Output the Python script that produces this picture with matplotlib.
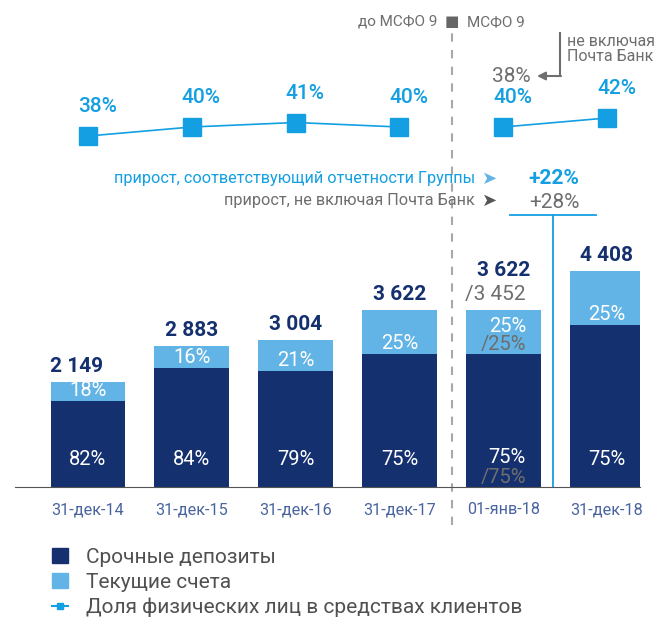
import matplotlib
matplotlib.use("Agg")
import matplotlib.pyplot as plt
from matplotlib.patches import Patch
from matplotlib.lines import Line2D

plt.rcParams['font.family'] = ['Roboto', 'DejaVu Sans']

# data
dates = ['31-дек-14', '31-дек-15', '31-дек-16', '31-дек-17', '01-янв-18', '31-дек-18']
totals = [2149, 2883, 3004, 3622, 3622, 4408]
current_share = [18, 16, 21, 25, 25, 25]      # текущие счета, %
term_share = [82, 84, 79, 75, 75, 75]         # срочные депозиты, %
retail_share = [38, 40, 41, 40, 40, 42]       # доля физлиц, %
excl_total = 3452                             # 01-янв-18, не включая Почта Банк
excl_shares = [25, 75]
excl_retail = 38
growth_group = '+22%'
growth_excl = '+28%'

NAVY = '#15306f'
LIGHT = '#62b4e6'
BLUE = '#139fe2'
GRAY = '#6e6e6e'
TICK = '#4a64a0'

W, H = 656, 622


def px(x, y):
    return x / W, 1 - y / H


def fmt(v):
    return f'{v:,}'.replace(',', ' ')


fig = plt.figure(figsize=(W / 100, H / 100), dpi=100)
ax = fig.add_axes([15 / W, (H - 487) / H, 625 / W, 487 / H])
ax.set_xlim(-0.703, 5.318)
ax.set_ylim(0, 487 / 0.049)

x = list(range(len(dates)))
term = [t * s / 100 for t, s in zip(totals, term_share)]
cur = [t - d for t, d in zip(totals, term)]
ax.bar(x, term, width=0.72, color=NAVY)
ax.bar(x, cur, bottom=term, width=0.72, color=LIGHT)

inner = dict(textcoords='offset points', ha='center', va='center', fontsize=14.5)
for i in x:
    if i == 4:
        ax.annotate(fmt(totals[i]), (i, totals[i]), xytext=(0, 28),
                    textcoords='offset points', ha='center', va='center',
                    fontsize=15, fontweight='bold', color=NAVY)
        ax.annotate('/' + fmt(excl_total), (i, totals[i]), xytext=(-6, 11),
                    textcoords='offset points', ha='center', va='center',
                    fontsize=15, color=GRAY)
        ax.annotate(f'{current_share[i]}%', (i, term[i]), xytext=(3, 20), color='white', **inner)
        ax.annotate(f'/{excl_shares[0]}%', (i, term[i]), xytext=(0, 7), color=GRAY, **inner)
        ax.annotate(f'{term_share[i]}%', (i, 0), xytext=(3, 21.5), color='white', **inner)
        ax.annotate(f'/{excl_shares[1]}%', (i, 0), xytext=(0, 6.5), color=GRAY, **inner)
    else:
        dx = -8 if i == 0 else 0
        ax.annotate(fmt(totals[i]), (i, totals[i]), xytext=(dx, 11),
                    textcoords='offset points', ha='center', va='center',
                    fontsize=15, fontweight='bold', color=NAVY)
        ax.annotate(f'{current_share[i]}%', (i, term[i]), xytext=(0, 7.5), color='white', **inner)
        ax.annotate(f'{term_share[i]}%', (i, 0), xytext=(0, 20), color='white', **inner)

ax.set_xticks(x)
ax.set_xticklabels(dates, fontsize=11.7, color=TICK)
ax.tick_params(axis='x', length=0, pad=11)
ax.set_yticks([])
for s in ['top', 'right', 'left']:
    ax.spines[s].set_visible(False)
ax.spines['bottom'].set_color('#555555')

# retail share line
ax2 = ax.twinx()
ax2.set_ylim(38 - (487 - 136) / 4.5, 38 + 136 / 4.5)
ax2.axis('off')
ms = 13.5
ax2.plot(x[:4], retail_share[:4], color=BLUE, lw=1.2, marker='s', ms=ms)
ax2.plot(x[4:], retail_share[4:], color=BLUE, lw=1.2, marker='s', ms=ms)
for i in x:
    ax2.annotate(f'{retail_share[i]}%', (i, retail_share[i]), xytext=(-ms / 2 - 0.5, 21),
                 textcoords='offset points', ha='left', va='center',
                 fontsize=15, fontweight='medium', color=BLUE)
ax2.annotate(f'{excl_retail}%', (4, retail_share[4]), xytext=(-ms / 2 - 1, 36.5),
             textcoords='offset points', ha='left', va='center', fontsize=15, color=GRAY)

# IFRS 9 separator
sep = 3.507
ax.axvline(sep, ymin=-38 / 487, ymax=(487 - 33) / 487, color='#a8a8a8', lw=1.5,
           ls=(0, (4, 4)), clip_on=False)
fig.text(*px(437, 22), 'до МСФО 9', ha='right', va='center', fontsize=11, color=GRAY)
fig.text(*px(452, 22), '■', ha='center', va='center', fontsize=11, color='#666666',
         family='DejaVu Sans')
fig.text(*px(467, 22), 'МСФО 9', ha='left', va='center', fontsize=11, color=GRAY)

# "не включая Почта Банк" bracket
fig.text(*px(567, 49), 'не включая\nПочта Банк', ha='left', va='center', fontsize=11.5,
         color=GRAY, linespacing=1.0)
fig.add_artist(Line2D([560 / W, 560 / W], [1 - 33 / H, 1 - 76 / H], color=GRAY, lw=1.5))
ax.annotate('', xy=px(537, 76), xytext=px(561, 76), xycoords='figure fraction',
            textcoords='figure fraction',
            arrowprops=dict(arrowstyle='-|>', color=GRAY, lw=1.5, mutation_scale=12,
                            shrinkA=0, shrinkB=0))

# growth annotation
fig.text(*px(475, 179), 'прирост, соответствующий отчетности Группы', ha='right', va='center',
         fontsize=11.7, color=BLUE)
fig.text(*px(490, 179), '➤', ha='center', va='center', fontsize=13, color=LIGHT,
         family='DejaVu Sans')
fig.text(*px(475, 201), 'прирост, не включая Почта Банк', ha='right', va='center',
         fontsize=11.7, color=GRAY)
fig.text(*px(490, 201), '➤', ha='center', va='center', fontsize=13, color='#555555',
         family='DejaVu Sans')
fig.text(*px(554, 178), growth_group, ha='center', va='center', fontsize=15,
         fontweight='bold', color=BLUE)
fig.text(*px(554, 202), growth_excl, ha='center', va='center', fontsize=15, color=GRAY)
gx = 4.48
ax.axvline(gx, ymin=0, ymax=(487 - 215) / 487, color=BLUE, lw=1.3)
ax.plot([gx - 0.41, gx + 0.41], [(487 - 215) / 0.049] * 2, color=BLUE, lw=1.3, clip_on=False)
ax.set_ylim(0, 487 / 0.049)

# legend
handles = [Patch(color=NAVY), Patch(color=LIGHT),
           Line2D([], [], color=BLUE, lw=1.5, marker='s', ms=5)]
labels = ['Срочные депозиты', 'Текущие счета', 'Доля физических лиц в средствах клиентов']
fig.legend(handles, labels, loc='upper left', bbox_to_anchor=px(52, 548), frameon=False,
           prop=dict(size=15), labelcolor='#505050',
           handlelength=0.75, handleheight=0.7,
           handletextpad=0.9, labelspacing=0.28, borderaxespad=0, borderpad=0)

fig.savefig('out.png', dpi=100)
